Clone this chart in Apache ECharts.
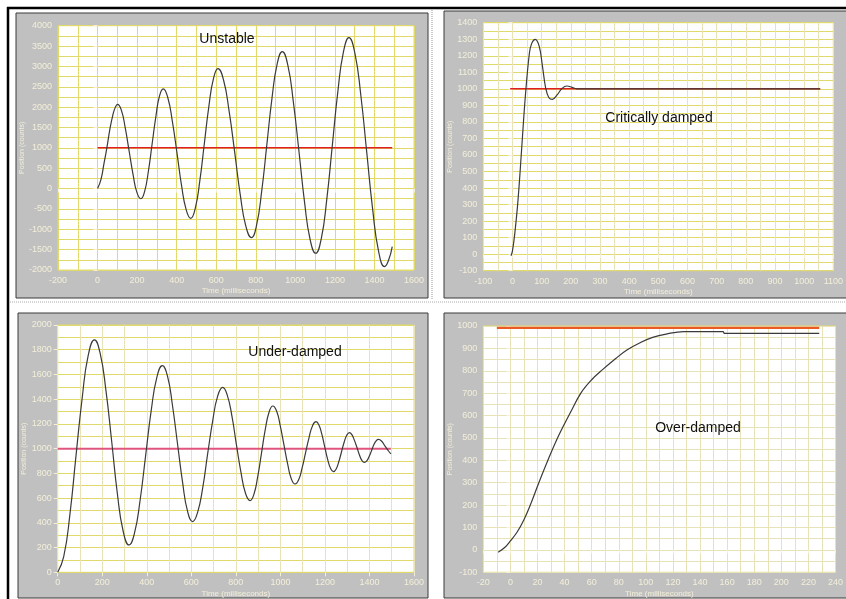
<!DOCTYPE html>
<html><head><meta charset="utf-8">
<script src="https://cdn.jsdelivr.net/npm/echarts@6/dist/echarts.min.js"></script>
<style>html,body{margin:0;padding:0;background:#fff}#c{width:846px;height:599px}</style>
</head><body><div id="c"></div>
<script>
// ---------- Data ----------
// Unstable
const unstableTime = [0,17,32,47,62,77,90,101,121,140,160,180,199,219,238,257,276,295,313,332,355,378,402,425,448,471,494,517,540,563,586,609,637,665,694,722,750,778,804,830,856,882,908,934,962,990,1019,1047,1075,1103,1131,1159,1187,1215,1243,1271,1301,1331,1361,1391,1421,1451,1470,1490];
const unstablePos  = [0,220,600,1000,1450,1800,2000,2070,1915,1490,910,330,-95,-250,-70,425,1100,1775,2270,2450,2237,1655,860,65,-517,-730,-484,189,1107,2025,2698,2944,2667,1907,870,-167,-927,-1205,-899,-63,1079,2221,3057,3362,3031,2125,887,-351,-1257,-1589,-1234,-266,1058,2382,3350,3705,3328,2299,894,-512,-1540,-1917,-1780,-1425];
const unstableSetTime = [0,1490];
const unstableSetPos  = [1000,1000];

// Critically damped
const criticalTime = [-5,0,8,19,32,44,58,66,78,92,103,114,125,137,153,170,187,204,220,1055];
const criticalPos  = [-10,20,126,327,650,952,1215,1275,1299,1255,1134,1003,946,936,963,1003,1017,1009,1000,1000];
const criticalSetTime = [-8,1055];
const criticalSetPos  = [1000,1000];

// Under-damped
const underTime = [0,27,55,82,110,137,165,191,217,243,268,294,320,345,370,395,420,445,470,493,515,538,561,583,606,628,651,673,696,718,741,761,782,802,823,843,864,881,898,915,932,949,966,983,999,1016,1033,1049,1066,1082,1097,1113,1129,1144,1160,1173,1186,1199,1212,1225,1238,1250,1262,1274,1286,1298,1310,1321,1332,1344,1355,1366,1377,1388,1398,1409,1419,1430,1440,1455,1470,1484,1496];
const underPos  = [0,126,470,940,1410,1754,1879,1768,1465,1050,635,332,221,318,583,946,1309,1574,1671,1586,1355,1040,725,494,410,483,681,953,1225,1423,1496,1435,1267,1038,809,641,580,630,771,962,1153,1294,1345,1304,1188,1030,872,756,714,748,840,966,1092,1184,1218,1191,1117,1016,915,841,814,834,892,971,1050,1108,1129,1113,1069,1009,949,905,889,901,935,982,1029,1063,1075,1060,1020,985,957];
const underSetTime = [0,1496];
const underSetPos  = [1000,1000];

// Over-damped
const overTime = [-9,-4,0,5,10,15,21,28,36,44,52,60,68,78,86,96,105,115,128,157,158,228];
const overPos  = [-10,12,40,80,135,205,300,405,515,610,700,760,805,856,893,926,949,964,975,975,967,967];
const overSetTime = [-10,228];
const overSetPos  = [992,992];

// Tick / axis labels
const panelTitles = ['Unstable','Critically damped','Under-damped','Over-damped'];
const xName = 'Time (milliseconds)';
const yName = 'Position (counts)';

// ---------- Build chart ----------
function zip(a,b){return a.map((v,i)=>[v,b[i]]);}
const cream = '#f3efd9';
const ySt = '#e0da6a';
const yLt = '#e8e3b6';
const font = 'Liberation Sans, Arial, sans-serif';

const grids = [
  {left:58, top:25.7, width:356, height:244.3},
  {left:483.3, top:22.7, width:357.4, height:248},
  {left:57.7, top:325, width:356.3, height:247.3},
  {left:483.3, top:326, width:359.4, height:246.3}
].map(g=>Object.assign({show:true, backgroundColor:'#ffffff', borderColor:ySt, borderWidth:1}, g));

const axisSpec = [
  {x:[-200,1600,200], y:[-2000,4000,500], h:ySt, v:ySt, yGap:31},
  {x:[-100,1100,100], y:[-100,1400,100], h:ySt, v:yLt, yGap:26},
  {x:[0,1600,200], y:[0,2000,200], h:ySt, v:yLt, yGap:25},
  {x:[-20,240,20], y:[-100,1000,100], h:yLt, v:yLt, yGap:28}
];
const plain = v => String(v);

const xAxis = axisSpec.map((s,i)=>({
  type:'value', gridIndex:i, min:s.x[0], max:s.x[1], interval:s.x[2],
  name:xName, nameLocation:'middle', nameGap:17,
  nameTextStyle:{color:cream, fontSize:8, fontFamily:font},
  axisLine:{show:false},
  axisTick:{show:true, length:4, lineStyle:{color:cream}},
  axisLabel:{color:cream, fontSize:9, margin:6, fontFamily:font, formatter:plain},
  splitLine:{show:true, lineStyle:{color:s.v, width:1}},
  minorTick:{show:false, splitNumber:2},
  minorSplitLine:{show:true, lineStyle:{color:s.v, width:1}}
}));
const yAxis = axisSpec.map((s,i)=>({
  type:'value', gridIndex:i, min:s.y[0], max:s.y[1], interval:s.y[2],
  name:yName, nameLocation:'middle', nameGap:s.yGap, nameRotate:90,
  nameTextStyle:{color:cream, fontSize:7, fontFamily:font},
  axisLine:{show:false},
  axisTick:{show:true, length:4, lineStyle:{color:cream}},
  axisLabel:{color:cream, fontSize:9, margin:6, fontFamily:font, formatter:plain},
  splitLine:{show:true, lineStyle:{color:s.h, width:1}},
  minorTick:{show:false, splitNumber:2},
  minorSplitLine:{show:true, lineStyle:{color:s.h, width:1}}
}));

function setLine(i, t, p, color, w){
  return {type:'line', xAxisIndex:i, yAxisIndex:i, data:zip(t,p), symbol:'none',
    lineStyle:{color:color, width:w}, silent:true, animation:false, z:3};
}
function curve(i, t, p, sm){
  return {type:'line', xAxisIndex:i, yAxisIndex:i, data:zip(t,p), symbol:'none',
    smooth:sm, lineStyle:{color:'#3a3a3a', width:1.2}, silent:true, animation:false, z:4};
}

const series = [
  setLine(0, unstableSetTime, unstableSetPos, '#e02020', 1.5),
  curve(0, unstableTime, unstablePos, 0.5),
  setLine(1, criticalSetTime, criticalSetPos, '#e02020', 1.5),
  curve(1, criticalTime, criticalPos, 0.4),
  setLine(2, underSetTime, underSetPos, '#e0557e', 2),
  curve(2, underTime, underPos, 0.5),
  setLine(3, overSetTime, overSetPos, '#ea5a22', 2.2),
  curve(3, overTime, overPos, 0.4)
];

const titlePos = [[227,39],[659,118],[295,352],[698,428]];
const graphic = [
  {type:'rect', shape:{x:16,y:13,width:412,height:285}, style:{fill:'#c0c0c0', stroke:'#3a3a3a', lineWidth:1}, z:-10},
  {type:'rect', shape:{x:444,y:11,width:403,height:287}, style:{fill:'#c0c0c0', stroke:'#3a3a3a', lineWidth:1}, z:-10},
  {type:'rect', shape:{x:18,y:313,width:410,height:285}, style:{fill:'#c0c0c0', stroke:'#3a3a3a', lineWidth:1}, z:-10},
  {type:'rect', shape:{x:444,y:313,width:403,height:285}, style:{fill:'#c0c0c0', stroke:'#3a3a3a', lineWidth:1}, z:-10},
  {type:'line', shape:{x1:432,y1:10,x2:432,y2:299}, style:{stroke:'#999', lineWidth:1, lineDash:[1,1]}, z:-10},
  {type:'line', shape:{x1:10,y1:302,x2:846,y2:302}, style:{stroke:'#aaa', lineWidth:1, lineDash:[1,1]}, z:-10},
  {type:'line', shape:{x1:7,y1:8,x2:846,y2:8}, style:{stroke:'#000', lineWidth:2.5}, z:100},
  {type:'line', shape:{x1:8,y1:7,x2:8,y2:599}, style:{stroke:'#000', lineWidth:2.5}, z:100}
].concat(panelTitles.map((t,i)=>({
  type:'text', x:titlePos[i][0], y:titlePos[i][1], z:100,
  style:{text:t, fill:'#111', font:'14px '+font, textAlign:'center', textVerticalAlign:'middle'}
})));

const chart = echarts.init(document.getElementById('c'), null, {renderer:'canvas'});
chart.setOption({
  animation:false,
  backgroundColor:'#ffffff',
  grid:grids, xAxis:xAxis, yAxis:yAxis, series:series, graphic:graphic,
  visualMap:[{
    show:false, type:'piecewise', seriesIndex:5, dimension:0,
    pieces:[{gte:400, lte:442, color:'#e04040'},{gte:497, lte:515, color:'#e04040'}],
    outOfRange:{color:'#3a3a3a'}
  }]
});
</script>
</body></html>
